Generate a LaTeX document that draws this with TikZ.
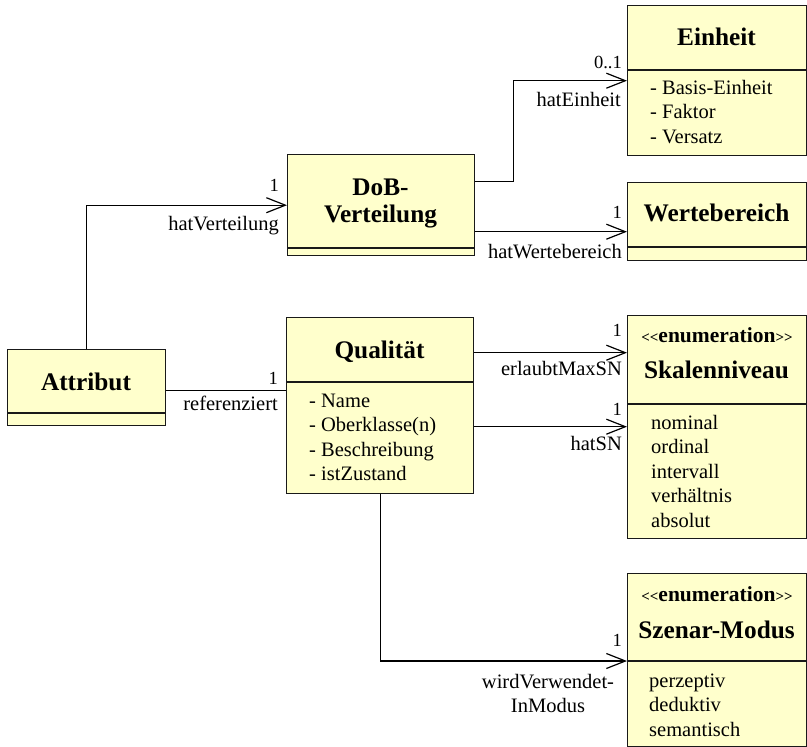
\documentclass[tikz,border=0pt]{standalone}
\usepackage{fontspec}
\setmainfont{Liberation Serif}
\usetikzlibrary{arrows.meta}
\definecolor{classfill}{HTML}{FFFFCC}
\newcommand\txtfont{\fontsize{20.5pt}{24.5pt}\selectfont}
\newcommand\multfont{\fontsize{18.5pt}{22pt}\selectfont}
\newcommand\titlefont{\fontsize{25.3pt}{28pt}\selectfont\bfseries}
\newcommand\stereofont{\fontsize{21.5pt}{24pt}\selectfont\bfseries}
\newcommand\guil[1]{{\fontsize{15pt}{15pt}\selectfont#1}}
\begin{document}
\begin{tikzpicture}[x=1pt,y=-1pt,
  classbox/.style={draw=black!90, fill=classfill, line width=1.4pt, inner sep=0pt, anchor=north west},
  sepline/.style={draw=black!90, line width=1.4pt},
  assoc/.style={line width=1.2pt},
  navig/.style={assoc, -{Straight Barb[length=19pt,width=15pt]}},
  txt/.style={inner sep=0pt, anchor=base west, font=\txtfont},
  lbl/.style={inner sep=0pt, anchor=base east, font=\txtfont},
  mult/.style={inner sep=0pt, anchor=base east, font=\multfont},
  ctr/.style={inner sep=0pt, anchor=base, font=\txtfont},
  title/.style={inner sep=0pt, anchor=base, font=\titlefont},
  stereo/.style={inner sep=0pt, anchor=base, font=\stereofont}]
\useasboundingbox (0,0) rectangle (807,747);

% class boxes
\node[classbox, minimum width=179pt, minimum height=150pt] (einheit) at (627,5) {};
\node[classbox, minimum width=179pt, minimum height=78pt]  (werte)   at (627,182) {};
\node[classbox, minimum width=179pt, minimum height=223pt] (skala)   at (627,315) {};
\node[classbox, minimum width=179pt, minimum height=173pt] (szenar)  at (627,573) {};
\node[classbox, minimum width=187pt, minimum height=101pt] (dob)     at (287,154) {};
\node[classbox, minimum width=187pt, minimum height=176pt] (qual)    at (286,317) {};
\node[classbox, minimum width=158pt, minimum height=76pt]  (attr)    at (7,349) {};

% compartment separators
\draw[sepline] ([yshift=-65pt]einheit.north west) -- ([yshift=-65pt]einheit.north east);
\draw[sepline] ([yshift=-65pt]werte.north west) -- ([yshift=-65pt]werte.north east);
\draw[sepline] ([yshift=-89pt]skala.north west) -- ([yshift=-89pt]skala.north east);
\draw[sepline] ([yshift=-88pt]szenar.north west) -- ([yshift=-88pt]szenar.north east);
\draw[sepline] ([yshift=-94pt]dob.north west) -- ([yshift=-94pt]dob.north east);
\draw[sepline] ([yshift=-65pt]qual.north west) -- ([yshift=-65pt]qual.north east);
\draw[sepline] ([yshift=-64pt]attr.north west) -- ([yshift=-64pt]attr.north east);

% class names
\node[title] (tEinheit) at (716.5,45) {Einheit};
\node[title] (tWerte) at (716.5,221.7) {Wertebereich};
\node[stereo] (sSkala) at (717,342) {\guil{<{}<}enumeration\guil{>{}>}};
\node[title] (tSkala) at (716.5,378) {Skalenniveau};
\node[stereo] (sSzenar) at (717,601) {\guil{<{}<}enumeration\guil{>{}>}};
\node[title] (tSzenar) at (716.5,638) {Szenar-Modus};
\node[title] (tDob1) at (380.5,195) {DoB-};
\node[title] (tDob2) at (380.5,222.7) {Verteilung};
\node[title] (tQual) at (379.5,358) {Qualität};
\node[title] (tAttr) at (86,390) {Attribut};

% attributes and literals
\foreach \t [count=\i] in {- Basis-Einheit, - Faktor, - Versatz}
  \node[txt] (ea\i) at (650,{94+24.5*(\i-1)}) {\t};
\foreach \t [count=\i] in {- Name, - Oberklasse(n), - Beschreibung, - istZustand}
  \node[txt] (qa\i) at (309,{407+24.5*(\i-1)}) {\t};
\foreach \t [count=\i] in {nominal, ordinal, intervall, verhältnis, absolut}
  \node[txt] (sl\i) at (651,{429+24.5*(\i-1)}) {\t};
\foreach \t [count=\i] in {perzeptiv, deduktiv, semantisch}
  \node[txt] (ml\i) at (649,{687+24.5*(\i-1)}) {\t};

% associations
\coordinate (hEstart) at ([yshift=23.5pt]dob.east);
\coordinate (hWstart) at ([yshift=-26.5pt]dob.east);
\coordinate (refstart) at ([yshift=-3pt]attr.east);
\coordinate (maxstart) at ([yshift=53pt]qual.east);
\coordinate (snstart) at ([yshift=-21pt]qual.east);
\coordinate (modusend) at ([yshift=-88pt]szenar.north west);

\draw[navig] (attr.north) |- (dob.west);
\draw[navig] (hEstart) -- ++(38,0) |- (einheit.west);
\draw[navig] (hWstart) -- (hWstart -| werte.west);
\draw[assoc] (refstart) -- (refstart -| qual.west);
\draw[navig] (maxstart) -- (maxstart -| skala.west);
\draw[navig] (snstart) -- (snstart -| skala.west);
\draw[navig] (qual.south) |- (modusend);

% role names and multiplicities
\node[mult] (mVert) at (279,191.7) {1};
\node[lbl] (lVert) at (279,230.7) {hatVerteilung};
\node[mult] (mEinh) at (622,68.3) {0..1};
\node[lbl] (lEinh) at (621,106) {hatEinheit};
\node[mult] (mWert) at (622,218.3) {1};
\node[lbl] (lWert) at (622,258.3) {hatWertebereich};
\node[mult] (mRef) at (278,384.3) {1};
\node[lbl] (lRef) at (278,410) {referenziert};
\node[mult] (mMax) at (622,336.7) {1};
\node[lbl] (lMax) at (622,375) {erlaubtMaxSN};
\node[mult] (mSN) at (622,415) {1};
\node[lbl] (lSN) at (622,450.7) {hatSN};
\node[mult] (mMod) at (622,646.7) {1};
\node[ctr] (lMod1) at (548,688) {wirdVerwendet-};
\node[ctr] (lMod2) at (548,712.7) {InModus};
\end{tikzpicture}
\end{document}
